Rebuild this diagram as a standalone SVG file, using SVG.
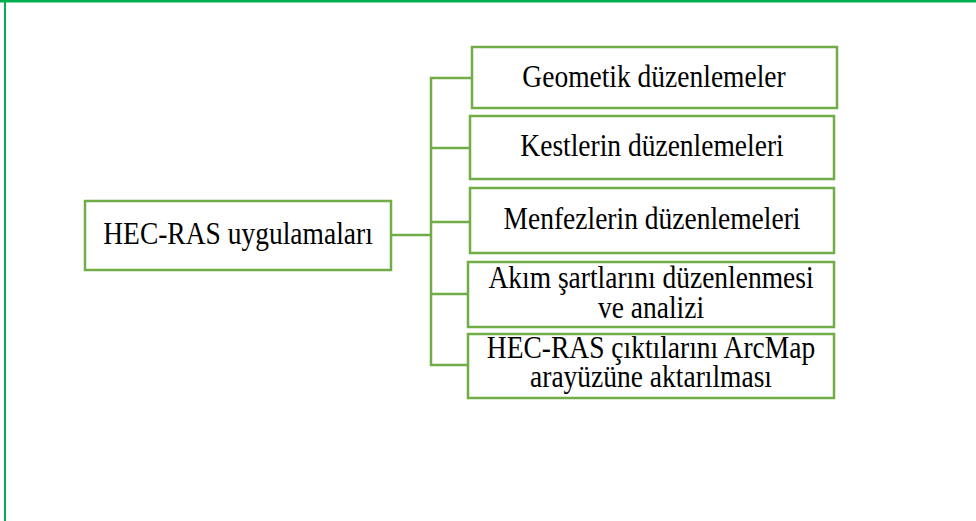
<svg xmlns="http://www.w3.org/2000/svg" width="976" height="521" viewBox="0 0 976 521">
<style>
.frame{stroke:#00B050;fill:none}
.box{fill:#fff;stroke:#70AD47;stroke-width:2.5}
.conn{stroke:#70AD47;stroke-width:2.5;fill:none}
text{font-family:"Liberation Serif","Times New Roman",serif;font-size:27.5px;fill:#000;text-anchor:middle}
</style>
<rect width="976" height="521" fill="#fff"/>
<g id="frame">
<line class="frame" x1="0" y1="1.3" x2="976" y2="1.3" stroke-width="2.6"/>
<line class="frame" x1="5" y1="0" x2="5" y2="521" stroke-width="2"/>
</g>
<g id="connectors">
<polyline class="conn" points="391,235 430,235"/>
<polyline class="conn" points="472,78 431,78 431,365 468,365"/>
<line class="conn" x1="431" y1="148" x2="470" y2="148"/>
<line class="conn" x1="431" y1="222" x2="470" y2="222"/>
<line class="conn" x1="431" y1="294" x2="468" y2="294"/>
</g>
<g id="main">
<rect class="box" x="85" y="201" width="306" height="69"/>
<text transform="translate(238,244) scale(1,1.12)">HEC-RAS uygulamaları</text>
</g>
<g id="n1">
<rect class="box" x="472" y="47" width="365" height="61"/>
<text transform="translate(654,87) scale(1,1.12)">Geometik düzenlemeler</text>
</g>
<g id="n2">
<rect class="box" x="470" y="116" width="364" height="63"/>
<text transform="translate(652,156) scale(1,1.12)">Kestlerin düzenlemeleri</text>
</g>
<g id="n3">
<rect class="box" x="470" y="188" width="364" height="65"/>
<text transform="translate(652,229) scale(1,1.12)">Menfezlerin düzenlemeleri</text>
</g>
<g id="n4">
<rect class="box" x="468" y="262" width="366" height="65"/>
<text transform="translate(651,288) scale(1,1.12)">Akım şartlarını düzenlenmesi</text>
<text transform="translate(651,318) scale(1,1.12)">ve analizi</text>
</g>
<g id="n5">
<rect class="box" x="468" y="334" width="366" height="64"/>
<text transform="translate(651,358) scale(1,1.12)">HEC-RAS çıktılarını ArcMap</text>
<text transform="translate(651,387) scale(1,1.12)">arayüzüne aktarılması</text>
</g>
</svg>
